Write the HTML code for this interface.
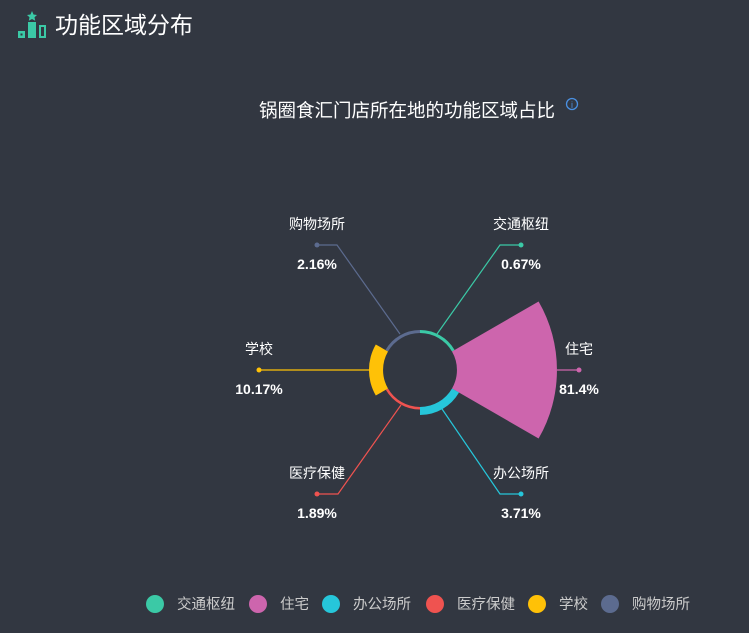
<!DOCTYPE html>
<html><head><meta charset="utf-8"><style>
html,body{margin:0;padding:0;background:#323741;width:749px;height:633px;overflow:hidden}
svg{display:block;font-family:"Liberation Sans","Noto Sans CJK SC",sans-serif}
</style></head><body>
<svg width="749" height="633" viewBox="0 0 749 633">
<rect width="749" height="633" fill="#323741"/>
<g fill="#3bc9a6">
<polygon points="32,11 33.5,14.5 37,15 34.5,17.3 35.2,20.8 32,19 28.8,20.8 29.5,17.3 27,15 30.5,14.5"/>
<rect x="28" y="22" width="8" height="16"/>
<rect x="18" y="31" width="7" height="7"/>
<rect x="39" y="25" width="7" height="13"/>
</g>
<rect x="20.5" y="33.5" width="2" height="2" fill="#323741"/>
<rect x="41" y="27" width="3" height="9" fill="#323741"/>
<text x="55" y="33" font-size="23" fill="#ffffff">功能区域分布</text>
<text x="407" y="117" font-size="18.5" fill="#ffffff" text-anchor="middle">锅圈食汇门店所在地的功能区域占比</text>
<circle cx="572" cy="104" r="5.5" fill="none" stroke="#4a90e2" stroke-width="1.3"/>
<text x="572" y="108" font-size="9" fill="#4a90e2" text-anchor="middle">i</text>
<g transform="translate(420,370)">
<path d="M0,-40 A40,40 0 0 1 34.6,-20 L32,-18.5 A37,37 0 0 0 0,-37Z" fill="#3bc9a6"/>
<path d="M118.6,-68.5 A137,137 0 0 1 118.6,68.5 L32,18.5 A37,37 0 0 0 32,-18.5Z" fill="#cd65ad"/>
<path d="M39,22.5 A45,45 0 0 1 0,45 L0,37 A37,37 0 0 0 32,18.5Z" fill="#26c6da"/>
<path d="M0,39.5 A39.5,39.5 0 0 1 -34.2,19.75 L-32,18.5 A37,37 0 0 0 0,37Z" fill="#ef5350"/>
<path d="M-44.2,25.5 A51,51 0 0 1 -44.2,-25.5 L-32,-18.5 A37,37 0 0 0 -32,18.5Z" fill="#ffc107"/>
<path d="M-34.6,-20 A40,40 0 0 1 0,-40 L0,-37 A37,37 0 0 0 -32,-18.5Z" fill="#5c6b8f"/>
</g>
<g fill="none" stroke-width="1.2">
<polyline points="437,334 500,245 521,245" stroke="#3bc9a6"/>
<polyline points="557,370 579,370" stroke="#cd65ad"/>
<polyline points="440,406 500,494 521,494" stroke="#26c6da"/>
<polyline points="401,405 338,494 317,494" stroke="#ef5350"/>
<polyline points="369,370 259,370" stroke="#ffc107"/>
<polyline points="400,334 337,245 317,245" stroke="#5c6b8f"/>
</g>
<circle cx="521" cy="245" r="2.5" fill="#3bc9a6"/>
<circle cx="579" cy="370" r="2.5" fill="#cd65ad"/>
<circle cx="521" cy="494" r="2.5" fill="#26c6da"/>
<circle cx="317" cy="494" r="2.5" fill="#ef5350"/>
<circle cx="259" cy="370" r="2.5" fill="#ffc107"/>
<circle cx="317" cy="245" r="2.5" fill="#5c6b8f"/>
<g font-size="14" fill="#ffffff" text-anchor="middle">
<text x="521" y="229">交通枢纽</text><text x="521" y="269" font-weight="bold">0.67%</text>
<text x="579" y="354">住宅</text><text x="579" y="394" font-weight="bold">81.4%</text>
<text x="521" y="478">办公场所</text><text x="521" y="518" font-weight="bold">3.71%</text>
<text x="317" y="478">医疗保健</text><text x="317" y="518" font-weight="bold">1.89%</text>
<text x="259" y="354">学校</text><text x="259" y="394" font-weight="bold">10.17%</text>
<text x="317" y="229">购物场所</text><text x="317" y="269" font-weight="bold">2.16%</text>
</g>
<g font-size="14.5" fill="#cccccc">
<circle cx="155" cy="604" r="9" fill="#3bc9a6"/><text x="177" y="609">交通枢纽</text>
<circle cx="258" cy="604" r="9" fill="#cd65ad"/><text x="280" y="609">住宅</text>
<circle cx="331" cy="604" r="9" fill="#26c6da"/><text x="353" y="609">办公场所</text>
<circle cx="435" cy="604" r="9" fill="#ef5350"/><text x="457" y="609">医疗保健</text>
<circle cx="537" cy="604" r="9" fill="#ffc107"/><text x="559" y="609">学校</text>
<circle cx="610" cy="604" r="9" fill="#5c6b8f"/><text x="632" y="609">购物场所</text>
</g>
</svg>
</body></html>
